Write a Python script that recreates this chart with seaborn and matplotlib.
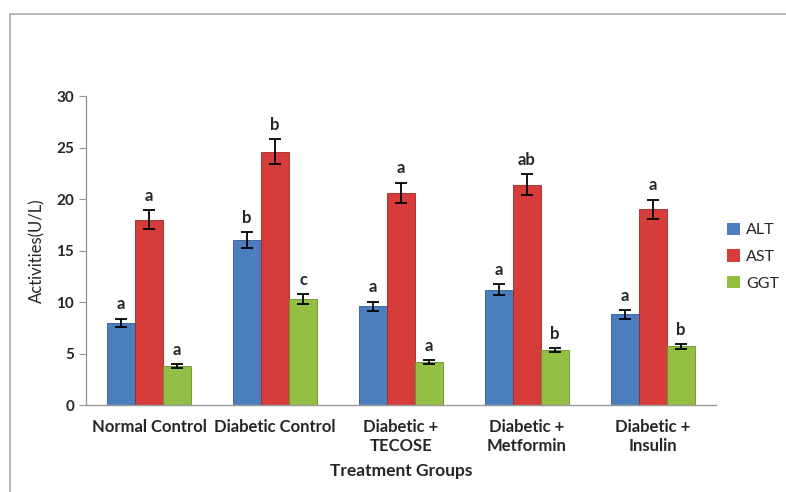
import numpy as np
import pandas as pd
import matplotlib.pyplot as plt
import seaborn as sns

# data
groups = ["Normal Control", "Diabetic Control", "Diabetic +\nTECOSE",
          "Diabetic +\nMetformin", "Diabetic +\nInsulin"]
enzymes = ["ALT", "AST", "GGT"]
alt = [8.0, 16.0, 9.6, 11.2, 8.8]
ast = [18.0, 24.6, 20.6, 21.4, 19.0]
ggt = [3.8, 10.3, 4.2, 5.3, 5.7]
alt_err = [0.4, 0.8, 0.45, 0.55, 0.45]
ast_err = [0.9, 1.2, 1.0, 1.0, 0.95]
ggt_err = [0.2, 0.5, 0.2, 0.2, 0.25]
alt_sig = ["a", "b", "a", "a", "a"]
ast_sig = ["a", "b", "a", "ab", "a"]
ggt_sig = ["a", "c", "a", "b", "b"]

colors = ["#4A7EBF", "#D63C3A", "#93BF45"]
edges = ["#2F5A8F", "#9C2624", "#6A8E2C"]

df = pd.DataFrame({
    "group": groups * 3,
    "enzyme": np.repeat(enzymes, len(groups)),
    "value": alt + ast + ggt,
})
errs = [alt_err, ast_err, ggt_err]
sigs = [alt_sig, ast_sig, ggt_sig]

sns.set_style("white")
plt.rcParams["font.family"] = ["Lato", "DejaVu Sans"]

fig = plt.figure(figsize=(7.86, 4.92), dpi=100)
ax = fig.add_axes([0.1094, 0.1768, 0.8015, 0.628])

sns.barplot(data=df, x="group", y="value", hue="enzyme", hue_order=enzymes,
            palette=colors, width=0.67, errorbar=None, ax=ax,
            edgecolor="none", saturation=1)

# error bars and significance letters
bar_groups = list(ax.containers)
for i, cont in enumerate(bar_groups):
    for j, bar in enumerate(cont):
        bar.set_edgecolor(edges[i])
        bar.set_linewidth(0.6)
        xc = bar.get_x() + bar.get_width() / 2
        h = bar.get_height()
        ax.errorbar(xc, h, yerr=errs[i][j], color="black", capsize=4,
                    elinewidth=1.3, capthick=1.3)
        ax.text(xc, h + errs[i][j] + 0.6, sigs[i][j], ha="center", va="bottom",
                fontsize=12, fontweight="bold")

ax.set_ylim(0, 30)
ax.set_xlim(-0.5, 4.5)
ax.set_yticks(range(0, 31, 5))
ax.set_xticks(np.arange(-0.5, 5, 1), minor=True)
ax.tick_params(axis="x", which="major", length=0, pad=10, labelsize=12)
ax.tick_params(axis="x", which="minor", length=5, color="#999999", direction="out")
ax.tick_params(axis="y", length=5, color="#999999", direction="out", labelsize=11)
ax.tick_params(axis="both", bottom=True, left=True)
for lab in ax.get_xticklabels() + ax.get_yticklabels():
    lab.set_fontweight("bold")

for s in ["top", "right"]:
    ax.spines[s].set_visible(False)
for s in ["left", "bottom"]:
    ax.spines[s].set_color("#999999")
    ax.spines[s].set_linewidth(1.0)

ax.set_xlabel("Treatment Groups", fontsize=12.5, fontweight="bold", labelpad=7)
ax.set_ylabel("Activities(U/L)", fontsize=12, labelpad=8)

ax.legend(loc="center left", bbox_to_anchor=(0.995, 0.48), frameon=False,
          fontsize=11.5, handlelength=0.8, handleheight=0.8, labelspacing=0.75,
          handletextpad=0.4)

# outer chart frame
fig.add_artist(plt.Line2D([0.013, 0.013], [0.0, 0.972], color="#AAAAAA", lw=1.2))
fig.add_artist(plt.Line2D([0.013, 1.0], [0.972, 0.972], color="#AAAAAA", lw=1.2))

fig.savefig("out.png", dpi=100)
